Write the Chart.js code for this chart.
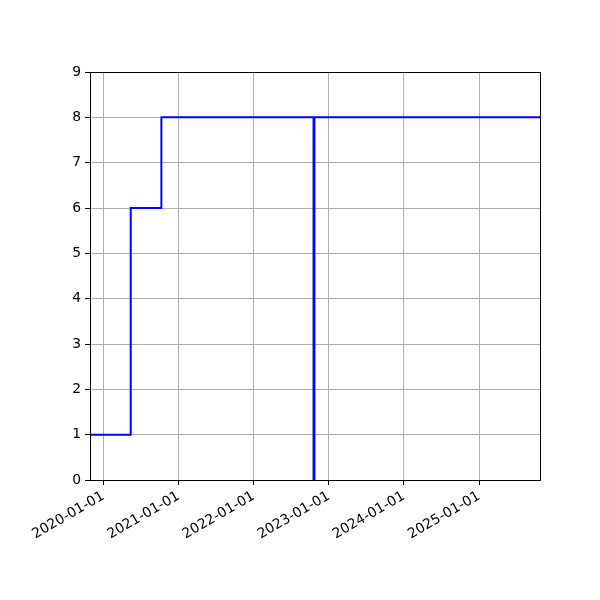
<!DOCTYPE html>
<html lang="en">

<head>
    <meta charset="UTF-8">
    <title>Step chart</title>
    <style>
        body { margin: 0; background: #fff; }
    </style>
</head>

<body>
    <canvas id="stepChart" width="600" height="600"></canvas>
</body>

<script src="https://cdn.jsdelivr.net/npm/chart.js"></script>

<script>
    // values
    const dates = ['2019-10-28', '2020-05-13', '2020-10-09', '2022-10-19', '2022-10-23', '2025-10-24'];
    const values = [1, 6, 8, 0, 8, 8];
    const tickDates = ['2020-01-01', '2021-01-01', '2022-01-01', '2023-01-01', '2024-01-01', '2025-01-01'];

    const toMs = d => Date.parse(d + 'T00:00:00Z');

    // matplotlib style frame round the plot area
    const frame = {
        id: 'frame',
        afterDraw(chart) {
            const { ctx, chartArea: a } = chart;
            ctx.save();
            ctx.strokeStyle = '#000';
            ctx.lineWidth = 1;
            ctx.strokeRect(a.left + 0.5, a.top + 0.5, a.right - a.left, a.bottom - a.top);
            ctx.restore();
        }
    };

    const ctx = document.getElementById('stepChart').getContext('2d');
    const chart = new Chart(ctx, {
        type: 'line',
        data: {
            datasets: [{
                data: dates.map((d, i) => ({ x: toMs(d), y: values[i] })),
                borderColor: '#0000ff',
                borderWidth: 2,
                pointRadius: 0,
                stepped: 'before',
                fill: false
            }]
        },
        options: {
            responsive: false,
            animation: false,
            layout: { padding: { top: 72, right: 60, left: 0, bottom: 0 } },
            plugins: { legend: { display: false }, tooltip: { enabled: false } },
            scales: {
                x: {
                    type: 'linear',
                    min: toMs(dates[0]),
                    max: toMs(dates[dates.length - 1]),
                    afterBuildTicks: axis => {
                        axis.ticks = tickDates.map(d => ({ value: toMs(d) }));
                    },
                    afterFit: axis => { axis.height = 120; },
                    ticks: {
                        autoSkip: false,
                        minRotation: 30,
                        maxRotation: 30,
                        padding: 3,
                        color: '#000',
                        font: { family: 'DejaVu Sans', size: 13.9 },
                        callback: v => new Date(v).toISOString().slice(0, 10)
                    },
                    grid: { color: '#b0b0b0', tickColor: '#000', tickLength: 5, lineWidth: 1 },
                    border: { color: '#000' }
                },
                y: {
                    min: 0,
                    max: 9,
                    afterFit: axis => { axis.width = 90; },
                    ticks: {
                        stepSize: 1,
                        padding: 4,
                        color: '#000',
                        font: { family: 'DejaVu Sans', size: 13.9 }
                    },
                    grid: { color: '#b0b0b0', tickColor: '#000', tickLength: 5, lineWidth: 1 },
                    border: { color: '#000' }
                }
            }
        },
        plugins: [frame]
    });
</script>

</html>
